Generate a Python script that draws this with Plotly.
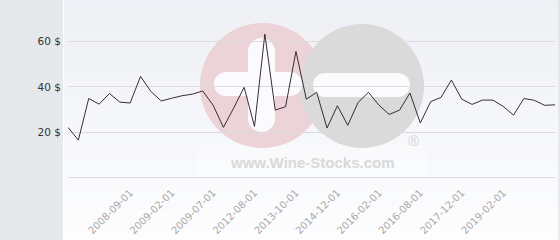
import plotly.graph_objects as go

# ---- data ----
prices = [22.2, 16.6, 34.9, 32.4, 37.1, 33.3, 32.9, 44.6, 38.0, 33.8,
          35.0, 36.1, 36.8, 38.2, 32.0, 22.2, 30.8, 39.8, 22.6, 63.2,
          29.8, 31.3, 55.6, 34.6, 37.6, 21.9, 31.7, 23.1, 33.2, 37.6,
          32.0, 27.9, 29.8, 37.3, 24.1, 33.5, 35.4, 43.0, 34.6, 32.3,
          34.2, 34.2, 31.4, 27.6, 34.9, 34.1, 31.9, 32.1]
tick_positions = [6, 10, 14, 18, 22, 26, 30, 34, 38, 42]
tick_labels = ["2008-09-01", "2009-02-01", "2009-07-01", "2012-08-01", "2013-10-01",
               "2014-12-01", "2016-02-01", "2016-08-01", "2017-12-01", "2019-02-01"]
y_ticks = [0, 20, 40, 60]
y_labels = ["", "20 $", "40 $", "60 $"]

W, H = 560, 240
ML, MR, MT, MB = 68, 5, 0, 61
PW, PH = W - ML - MR, H - MT - MB


def px(x):
    return (x - ML) / PW


def py(y):
    return (H - MB - y) / PH


shapes = []
# gradient background bands for chart area
top = (238, 240, 245)
bot = (253, 253, 254)
n = 24
for k in range(n):
    t = k / (n - 1)
    c = tuple(round(top[j] + (bot[j] - top[j]) * t) for j in range(3))
    shapes.append(dict(type="rect", xref="paper", yref="paper", layer="below",
                       x0=px(63.5), x1=px(W), y0=py(k * H / n), y1=py((k + 1) * H / n + 0.5),
                       line=dict(width=0), fillcolor="rgb(%d,%d,%d)" % c))
shapes.append(dict(type="line", xref="paper", yref="paper", layer="below",
                   x0=px(63.5), x1=px(63.5), y0=py(0), y1=py(H),
                   line=dict(color="white", width=1)))
shapes.append(dict(type="line", xref="paper", yref="paper", layer="below",
                   x0=px(559), x1=px(559), y0=py(0), y1=py(H),
                   line=dict(color="#d8dadd", width=1)))
# watermark
shapes.append(dict(type="rect", xref="paper", yref="paper", layer="below",
                   x0=px(197), x1=px(427), y0=py(146), y1=py(175),
                   line=dict(width=0), fillcolor="rgba(255,255,255,0.35)"))
shapes.append(dict(type="circle", xref="paper", yref="paper", layer="below",
                   x0=px(200), x1=px(325), y0=py(23), y1=py(148),
                   line=dict(width=0), fillcolor="#ecd3d8"))
shapes.append(dict(type="circle", xref="paper", yref="paper", layer="below",
                   x0=px(300), x1=px(424), y0=py(24), y1=py(148),
                   line=dict(width=0), fillcolor="#dadada"))


def bar(x0, x1, y0, y1):
    # rounded bar (white)
    out = []
    if (x1 - x0) >= (y1 - y0):
        r = (y1 - y0) / 2
        out.append(dict(type="rect", x0=px(x0 + r), x1=px(x1 - r), y0=py(y0), y1=py(y1)))
        out.append(dict(type="circle", x0=px(x0), x1=px(x0 + 2 * r), y0=py(y0), y1=py(y1)))
        out.append(dict(type="circle", x0=px(x1 - 2 * r), x1=px(x1), y0=py(y0), y1=py(y1)))
    else:
        r = (x1 - x0) / 2
        out.append(dict(type="rect", x0=px(x0), x1=px(x1), y0=py(y0 + r), y1=py(y1 - r)))
        out.append(dict(type="circle", x0=px(x0), x1=px(x1), y0=py(y0), y1=py(y0 + 2 * r)))
        out.append(dict(type="circle", x0=px(x0), x1=px(x1), y0=py(y1 - 2 * r), y1=py(y1)))
    for s in out:
        s.update(xref="paper", yref="paper", layer="below", line=dict(width=0),
                 fillcolor="#fbfbfd")
    return out


shapes += bar(214, 302, 72, 96)
shapes += bar(248, 275, 38, 132)
shapes += bar(313, 410, 73, 97)

annotations = [
    dict(text="<b>www.Wine-Stocks.com</b>", xref="paper", yref="paper", x=px(312), y=py(162),
         showarrow=False, xanchor="center", yanchor="middle",
         font=dict(family="Liberation Sans", size=15, color="#d9d9d9")),
    dict(text="®", xref="paper", yref="paper", x=px(413), y=py(140),
         showarrow=False, xanchor="center", yanchor="middle",
         font=dict(family="Liberation Sans", size=15, color="#d6d6d6")),
]

fig = go.Figure()
fig.add_trace(go.Scatter(x=list(range(len(prices))), y=prices, mode="lines",
                         line=dict(color="#3b2b36", width=1), hoverinfo="skip"))

fig.update_layout(
    width=W, height=H,
    margin=dict(l=ML, r=MR, t=MT, b=MB, pad=0),
    paper_bgcolor="#e6e9ec",
    plot_bgcolor="rgba(0,0,0,0)",
    showlegend=False,
    shapes=shapes,
    annotations=annotations,
    xaxis=dict(range=[0, len(prices) - 1], tickmode="array", tickvals=tick_positions,
               ticktext=tick_labels, tickangle=-45, showgrid=False, zeroline=False,
               showline=False, ticks="", ticklabelstandoff=5,
               tickfont=dict(family="DejaVu Sans", size=10, color="#a8a8a8")),
    yaxis=dict(range=[-0.5, 78.2], tickmode="array", tickvals=y_ticks, ticktext=y_labels,
               showgrid=True, gridcolor="#dcdcdf", gridwidth=1, zeroline=False,
               showline=False, ticks="", ticklabelstandoff=6,
               tickfont=dict(family="DejaVu Sans", size=10.5, color="#333333")),
)

fig.write_html("out.html")
